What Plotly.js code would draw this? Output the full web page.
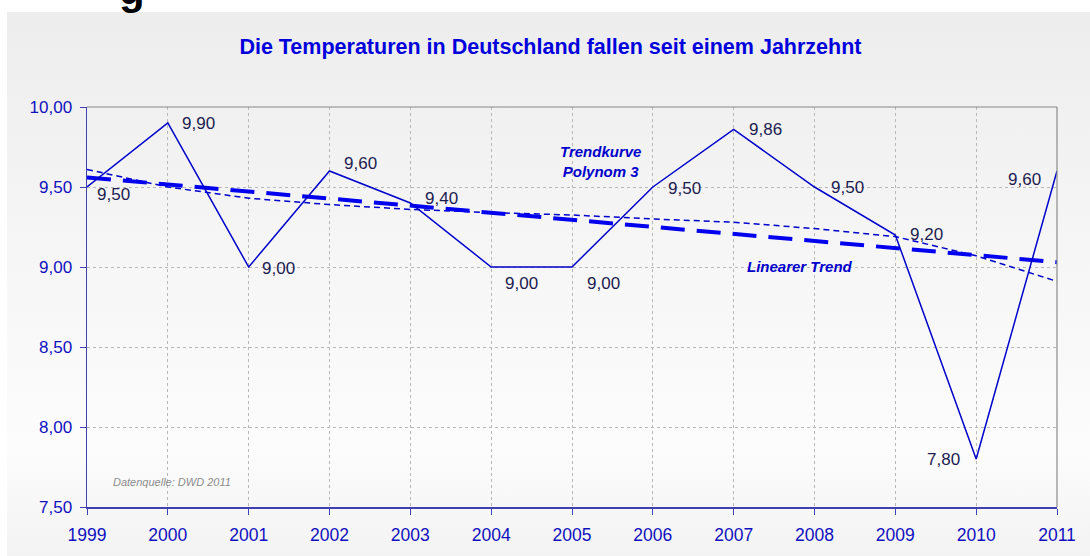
<!DOCTYPE html>
<html>
<head>
<meta charset="utf-8">
<script src="https://cdn.plot.ly/plotly-3.0.1.min.js"></script>
<style>
  html, body { margin: 0; padding: 0; background: #ffffff; width: 1090px; height: 556px; overflow: hidden; }
  #bg { position: absolute; left: 7px; top: 12px; width: 1083px; height: 544px;
        background: linear-gradient(to bottom, #ededed 0%, #f6f6f6 45%, #fcfcfc 80%, #f3f3f3 100%); }
  #chart { position: absolute; left: 0; top: 0; width: 1090px; height: 556px; }
</style>
</head>
<body>
<div id="bg"></div>
<div id="chart"></div>
<script>
// Data
const years = [1999, 2000, 2001, 2002, 2003, 2004, 2005, 2006, 2007, 2008, 2009, 2010, 2011];
const temps = [9.50, 9.90, 9.00, 9.60, 9.40, 9.00, 9.00, 9.50, 9.86, 9.50, 9.20, 7.80, 9.60];
const polyTrend = [9.61, 9.50, 9.43, 9.39, 9.36, 9.34, 9.325, 9.30, 9.28, 9.24, 9.19, 9.07, 8.91];
const linYears = [1999, 2011];
const linTrend = [9.56, 9.03];
const yTicks = [7.5, 8.0, 8.5, 9.0, 9.5, 10.0];

// label placement (pixel offsets from each point)
const labelAnchor = ['left', 'left', 'left', 'left', 'left', 'left', 'left', 'left', 'left', 'left', 'left', 'right', 'right'];
const labelDX = [8, 12, 11, 12, 13, 12, 13, 13, 13, 14, 13, -14, -14];
const labelDY = [-7, 0, -1, 8, 5, -16, -16, -1, 0, 0, 1, 0, -8];

const FONT = 'Liberation Sans, Arial, sans-serif';
const BLUE = '#0000cc';

const traces = [
  { x: years, y: polyTrend, type: 'scatter', mode: 'lines', hoverinfo: 'skip',
    line: { color: BLUE, width: 1.5, dash: '6px,4px' } },
  { x: linYears, y: linTrend, type: 'scatter', mode: 'lines', hoverinfo: 'skip',
    line: { color: '#0000ee', width: 4, dash: '24px,12px' } },
  { x: years, y: temps, type: 'scatter', mode: 'lines',
    line: { color: BLUE, width: 1.5 } }
];

const fmt = v => v.toFixed(2).replace('.', ',');
const pointLabels = years.map((yr, i) => ({
  text: fmt(temps[i]), x: yr, y: temps[i], xref: 'x', yref: 'y', showarrow: false,
  xanchor: labelAnchor[i], yanchor: 'middle', xshift: labelDX[i], yshift: labelDY[i],
  font: { family: FONT, size: 17, color: '#1c1c50' }
}));

const layout = {
  width: 1090, height: 556,
  margin: { l: 87, r: 33, t: 107, b: 49, pad: 0 },
  paper_bgcolor: 'rgba(0,0,0,0)',
  plot_bgcolor: 'rgba(0,0,0,0)',
  separators: ',.',
  showlegend: false,
  font: { family: FONT, color: '#1010c0' },
  title: { text: 'Die Temperaturen in Deutschland fallen seit einem Jahrzehnt',
           font: { family: FONT, size: 21.5, color: '#0000dd', weight: 'bold' },
           x: 0.505, xanchor: 'center', y: 0.916, yanchor: 'middle' },
  xaxis: { range: [1999, 2011], tickvals: years, ticktext: years.map(String),
           showgrid: true, gridcolor: '#b8b8b8', griddash: 'dot', gridwidth: 1,
           showline: true, linecolor: '#4040b0', linewidth: 1.5,
           ticks: 'outside', ticklen: 6, tickcolor: '#4040b0', ticklabelstandoff: 5,
           tickfont: { family: FONT, size: 17.5, color: '#1010c0' }, zeroline: false, fixedrange: true },
  yaxis: { range: [7.5, 10], tickvals: yTicks, tickformat: '.2f',
           showgrid: true, gridcolor: '#b8b8b8', griddash: 'dot', gridwidth: 1,
           showline: true, linecolor: '#4040b0', linewidth: 1.5,
           ticks: 'outside', ticklen: 6, tickcolor: '#4040b0', ticklabelstandoff: 4,
           tickfont: { family: FONT, size: 17, color: '#1010c0' }, zeroline: false, fixedrange: true },
  shapes: [
    { type: 'line', xref: 'paper', yref: 'paper', x0: 0, x1: 1, y0: 1, y1: 1,
      line: { color: '#8a8a8a', width: 1.2 } },
    { type: 'line', xref: 'paper', yref: 'paper', x0: 1, x1: 1, y0: 0, y1: 1,
      line: { color: '#8a8a8a', width: 1.2 } }
  ],
  annotations: [
    { text: '<b><i>Trendkurve<br>Polynom 3</i></b>', x: 2005.35, y: 9.66, xref: 'x', yref: 'y',
      showarrow: false, font: { family: FONT, size: 15, color: BLUE }, align: 'center' },
    { text: '<b><i>Linearer Trend</i></b>', x: 2007.82, y: 9.005, xref: 'x', yref: 'y',
      showarrow: false, font: { family: FONT, size: 15, color: BLUE } },
    { text: '<i>Datenquelle: DWD 2011</i>', x: 2000.05, y: 7.656, xref: 'x', yref: 'y',
      showarrow: false, font: { family: FONT, size: 11, color: '#8c8c8c' } },
    { text: '<b>g</b>', xref: 'paper', yref: 'paper', x: 0.0464, y: 1.23,
      xanchor: 'center', yanchor: 'bottom', showarrow: false,
      font: { family: FONT, size: 42, color: '#000000' } }
  ].concat(pointLabels)
};

Plotly.newPlot('chart', traces, layout, { displayModeBar: false, staticPlot: true });
</script>
</body>
</html>
